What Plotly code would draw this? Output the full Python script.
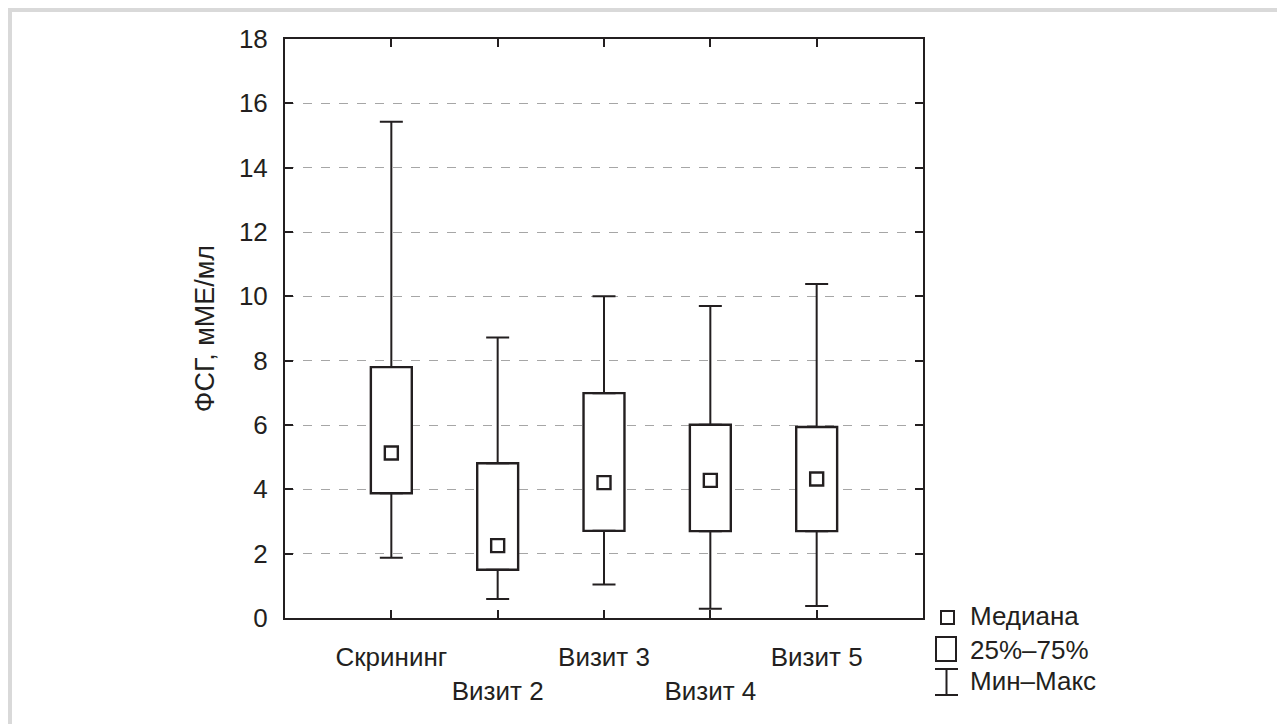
import plotly.graph_objects as go

# ---- data ----
categories = ["Скрининг", "Визит 2", "Визит 3", "Визит 4", "Визит 5"]
mins = [1.87, 0.59, 1.04, 0.29, 0.37]
q1 = [3.88, 1.50, 2.71, 2.70, 2.70]
medians = [5.13, 2.25, 4.21, 4.28, 4.32]
q3 = [7.80, 4.81, 6.99, 6.01, 5.94]
maxs = [15.43, 8.72, 10.00, 9.70, 10.38]
y_ticks = [0, 2, 4, 6, 8, 10, 12, 14, 16, 18]
legend_labels = ["Медиана", "25%–75%", "Мин–Макс"]
y_title = "ФСГ, мМЕ/мл"

INK = "#231f20"
FONT = "Liberation Sans, Arial, sans-serif"
FS = 26

OFF = 8  # page body margin
W, H = 1285 - OFF, 724 - OFF
L, R, T, B = 285 - OFF, 923 - OFF, 39 - OFF, 618 - OFF  # plot area (figure px)

def px(x):
    # x given in screen pixels
    return (x - OFF - L) / (R - L)

def py(y):
    return (B - (y - OFF)) / (B - T)

xs = list(range(1, len(categories) + 1))
ticktext = [c if i % 2 == 0 else "<br>" + c for i, c in enumerate(categories)]

fig = go.Figure()

# IQR boxes
fig.add_trace(go.Bar(
    x=xs, y=[b - a for a, b in zip(q1, q3)], base=q1, width=0.385,
    marker=dict(color="white", line=dict(color=INK, width=2.4)),
    hoverinfo="skip",
))
# upper whiskers
fig.add_trace(go.Scatter(
    x=xs, y=q3, mode="markers", marker=dict(size=1, opacity=0),
    error_y=dict(type="data", symmetric=False,
                 array=[b - a for a, b in zip(q3, maxs)],
                 arrayminus=[0] * len(xs),
                 width=11.5, thickness=2, color=INK),
))
# lower whiskers
fig.add_trace(go.Scatter(
    x=xs, y=q1, mode="markers", marker=dict(size=1, opacity=0),
    error_y=dict(type="data", symmetric=False,
                 array=[0] * len(xs),
                 arrayminus=[a - b for a, b in zip(q1, mins)],
                 width=11.5, thickness=2, color=INK),
))
# medians
fig.add_trace(go.Scatter(
    x=xs, y=medians, mode="markers",
    marker=dict(symbol="square-open", size=13, color=INK, line=dict(width=2.4, color=INK)),
))

axis_common = dict(
    showline=True, linecolor=INK, linewidth=2, mirror="ticks",
    ticks="inside", ticklen=8, tickwidth=1.5, tickcolor=INK,
    tickfont=dict(family=FONT, size=FS, color=INK),
    zeroline=False,
)

fig.update_xaxes(
    range=[0, 6], tickvals=xs, ticktext=ticktext, showgrid=False,
    ticklabelstandoff=15, **axis_common,
)
fig.update_yaxes(
    range=[0, 18], tickvals=y_ticks, showgrid=True,
    gridcolor="#a6a6a6", griddash="dash", gridwidth=1,
    ticklabelstandoff=10,
    title=dict(text=y_title, font=dict(family=FONT, size=27, color=INK), standoff=16),
    **axis_common,
)

shapes = []
# light grey page frame (top and left visible)
shapes.append(dict(type="rect", xref="paper", yref="paper",
                   x0=px(9.5), y0=py(9.5), x1=px(1320), y1=py(760),
                   line=dict(color="#d9d9d9", width=5), fillcolor="rgba(0,0,0,0)", layer="below"))
# legend: median square
shapes.append(dict(type="rect", xref="paper", yref="paper",
                   x0=px(941), x1=px(954), y0=py(611), y1=py(624),
                   line=dict(color=INK, width=2), fillcolor="white"))
# legend: box
shapes.append(dict(type="rect", xref="paper", yref="paper",
                   x0=px(936), x1=px(956), y0=py(637), y1=py(661),
                   line=dict(color=INK, width=2), fillcolor="white"))
# legend: min-max I-beam
for (x0, x1, y0, y1) in [(935, 958, 669, 669), (935, 958, 695, 695), (946.5, 946.5, 669, 695)]:
    shapes.append(dict(type="line", xref="paper", yref="paper",
                       x0=px(x0), x1=px(x1), y0=py(y0), y1=py(y1),
                       line=dict(color=INK, width=2)))

annotations = []
for lab, yc in zip(legend_labels, [616, 650, 681]):
    annotations.append(dict(xref="paper", yref="paper", x=px(968), y=py(yc),
                            xanchor="left", yanchor="middle", showarrow=False, text=lab,
                            font=dict(family=FONT, size=FS, color=INK)))

fig.update_layout(
    width=W, height=H,
    margin=dict(l=L, r=W - R, t=T, b=H - B, pad=0),
    paper_bgcolor="white", plot_bgcolor="white",
    showlegend=False, barmode="overlay",
    shapes=shapes, annotations=annotations,
    font=dict(family=FONT, size=FS, color=INK),
)

fig.write_html("out.html")
